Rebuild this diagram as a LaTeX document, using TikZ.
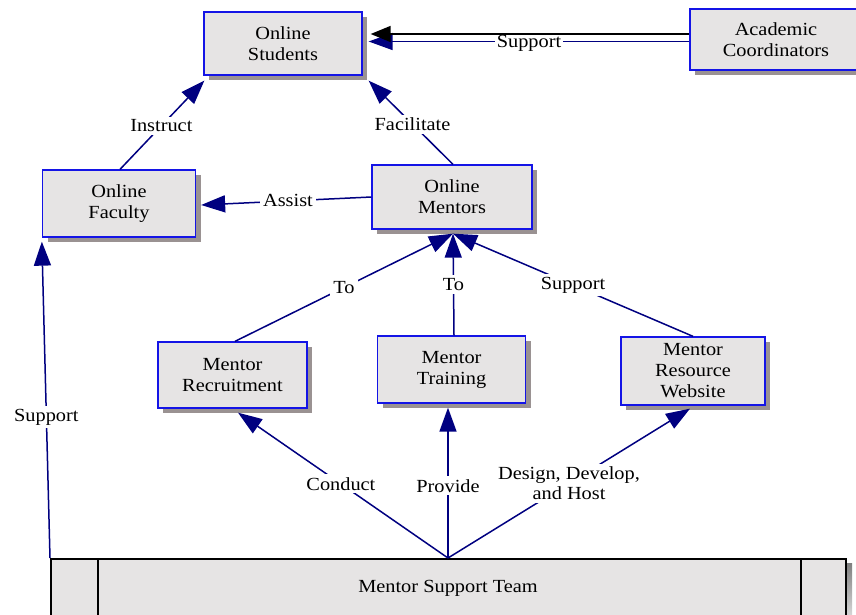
\documentclass[tikz,border=0pt]{standalone}
\usepackage{fontspec}
\setmainfont{Liberation Serif}[FakeStretch=1.1]
\usetikzlibrary{arrows.meta,shadows,calc}
\definecolor{boxfill}{HTML}{E6E4E4}
\definecolor{boxline}{RGB}{20,20,230}
\definecolor{linknavy}{RGB}{0,0,128}
\definecolor{shade}{HTML}{9A9292}
\tikzset{
  unit/.style={draw=boxline, line width=1.3pt, fill=boxfill, align=center,
    inner sep=0pt, font=\fontsize{18.5}{21}\selectfont,
    drop shadow={shadow xshift=5pt, shadow yshift=-5pt, fill=shade, opacity=1}},
  conn/.style={draw=linknavy, line width=1.5pt,
    -{Triangle[length=24pt,width=17pt]}},
  lbl/.style={fill=white, inner sep=3pt, align=center,
    font=\fontsize{18.5}{20}\selectfont},
}
\begin{document}
\begin{tikzpicture}[x=1pt, y=-1pt]
\useasboundingbox (0,0) rectangle (856,614);

% boxes
\node[unit, minimum width=158pt, minimum height=63pt] (students) at (283,43.5) {Online\\Students};
\node[unit, minimum width=172pt, minimum height=61pt] (coord) at (776,39.5) {Academic\\Coordinators};
\node[unit, minimum width=153pt, minimum height=67pt] (faculty) at (119,203.5) {Online\\Faculty};
\node[unit, minimum width=160pt, minimum height=64pt] (mentors) at (452,197) {Online\\Mentors};
\node[unit, minimum width=149pt, minimum height=66pt] (recruit) at (232.5,375) {Mentor\\Recruitment};
\node[unit, minimum width=148pt, minimum height=67pt] (training) at (451.5,369.5) {Mentor\\Training};
\node[unit, minimum width=144pt, minimum height=68pt] (website) at (693,371) {Mentor\\Resource\\Website};

% predefined-process block along the bottom
\fill[shade] (55,563) rectangle (852,640);
\node[draw=black, line width=1.5pt, fill=boxfill, minimum width=795pt,
  minimum height=82pt, inner sep=0pt, anchor=north west] (team) at (50,558) {};
\draw[black, line width=1.5pt] (98,558) -- (98,640) (801,558) -- (801,640);
\node[font=\fontsize{18.5}{21}\selectfont] (teamtext) at (448,588) {Mentor Support Team};
\coordinate (hub) at (448,558);
\coordinate (teamleft) at (50,558);

% connectors
\draw[conn] ($(coord.west)+(0,2)$) -- node[lbl, pos=0.5, yshift=-2pt, inner sep=2pt] {Support} ($(students.east)+(6,-2)$);
\draw[draw=black, line width=1.5pt, -{Triangle[length=20pt,width=16pt]}]
  ($(coord.west)+(0,-5.5)$) -- ($(students.east)+(8,-9.5)$);
\draw[conn] ($(faculty.north)+(1,0)$) -- node[lbl, pos=0.49] {Instruct} ($(students.south west)+(1,5)$);
\draw[conn] ($(mentors.north)+(1,0)$) -- node[lbl, pos=0.48] {Facilitate} ($(students.south east)+(6,5)$);
\draw[conn] (mentors.west) -- node[lbl, pos=0.49] {Assist} ($(faculty.east)+(5,1.5)$);
\draw[conn] ($(recruit.north)+(2.5,0)$) -- node[lbl, pos=0.5] {To} ($(mentors.south)+(1,4)$);
\draw[conn] ($(training.north)+(2.5,0)$) -- node[lbl, pos=0.5] {To} ($(mentors.south)+(1,4)$);
\draw[conn] (website.north) -- node[lbl, pos=0.5] {Support} ($(mentors.south)+(1,4)$);
\draw[conn] (teamleft) -- node[lbl, pos=0.445] {Support} ($(faculty.south west)+(0,4)$);
\draw[conn] (hub) -- node[lbl, pos=0.51] {Conduct} ($(recruit.south)+(5.5,4)$);
\draw[conn] (hub) -- node[lbl, pos=0.48] {Provide} ($(training.south)+(-3.5,4)$);
\draw[conn] (hub) -- node[lbl, pos=0.5] {Design, Develop,\\and Host} ($(website.south)+(-3,3)$);
\end{tikzpicture}
\end{document}
